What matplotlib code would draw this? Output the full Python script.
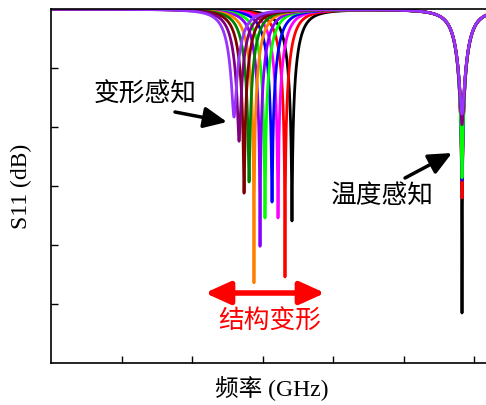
import numpy as np
import matplotlib
matplotlib.use("Agg")
import matplotlib.pyplot as plt
from matplotlib.patches import FancyArrowPatch

# ---- data (arbitrary GHz units, dB) ----
colors = ["#000000", "#FF0000", "#FF00FF", "#0000FF", "#00FF00", "#8800FF",
          "#FF8000", "#008000", "#800000", "#800080", "#9933FF"]
f1 = [3.418, 3.319, 3.220, 3.135, 3.035, 2.965, 2.879, 2.809, 2.738, 2.667, 2.596]
d1 = [-35.9, -45.4, -35.4, -32.7, -35.4, -40.2, -46.4, -29.3, -31.2, -22.4, -18.3]
f2 = [5.83] * 11
d2 = [-51.5, -32.0, -27.3, -29.0, -28.6, -18.8, -18.5, -18.1, -18.6, -19.6, -17.8]
width1 = 0.18
width2 = 0.18

xticks = [1, 2, 3, 4, 5, 6]
yticks = [-10, -20, -30, -40, -50]

CJK = "Noto Sans CJK SC"
SERIF = "Liberation Serif"


def dip(f, f0, depth, w):
    d2_ = ((f - f0) / w) ** 2
    m2 = 10 ** (depth / 10.0)
    return 10 * np.log10((d2_ + m2) / (d2_ + 1))


fig = plt.figure(figsize=(4.86, 4.05), dpi=100)
ax = fig.add_axes([51 / 486, 42 / 405, 442 / 486, 354 / 405])
xmax = 442 / 70.5
f = np.linspace(0, xmax, 6000)
for c, a, b, p, q in zip(colors, f1, d1, f2, d2):
    fx = np.sort(np.concatenate([f, [a, p]]))
    y = dip(fx, a, b, width1) + dip(fx, p, q, width2)
    ax.plot(fx, y, color=c, lw=2.0, solid_capstyle="butt")

ax.set_xlim(0, xmax)
ax.set_ylim(-60, 0)
ax.set_xticks(xticks)
ax.set_yticks(yticks)
ax.set_xticklabels([])
ax.set_yticklabels([])
ax.tick_params(direction="in", length=5, width=1)
for s in ax.spines.values():
    s.set_linewidth(1.2)
    s.set_zorder(5)

ax.set_xlabel("频率 (GHz)", family=[SERIF, CJK], fontsize=17, labelpad=6)
ax.set_ylabel("S11 (dB)", family=[SERIF, CJK], fontsize=17, labelpad=10)


def px(x, y):
    return ((x - 51) / 70.5, -(y - 9) / 5.9)


ax.text(*px(145, 95), "变形感知", family=[CJK], fontsize=18.5, ha="center", va="center")
ax.text(*px(382, 196), "温度感知", family=[CJK], fontsize=18.5, ha="center", va="center")
ax.text(*px(270, 322), "结构变形", family=[CJK], fontsize=18.5, ha="center", va="center", color="#FF0000")

ax.add_patch(FancyArrowPatch(px(175, 112), px(227, 122), arrowstyle="-|>,head_length=0.7,head_width=0.32",
                             mutation_scale=20, lw=2.5, color="black", shrinkA=0, shrinkB=0, zorder=6))
ax.add_patch(FancyArrowPatch(px(405, 178), px(452, 153), arrowstyle="-|>,head_length=0.7,head_width=0.32",
                             mutation_scale=20, lw=2.5, color="black", shrinkA=0, shrinkB=0, zorder=6))
ax.add_patch(FancyArrowPatch(px(205, 293), px(325, 293), arrowstyle="<|-|>,head_length=0.75,head_width=0.34",
                             mutation_scale=20, lw=4, color="#FF0000", shrinkA=0, shrinkB=0, zorder=6))

fig.savefig("out.png", dpi=100)
